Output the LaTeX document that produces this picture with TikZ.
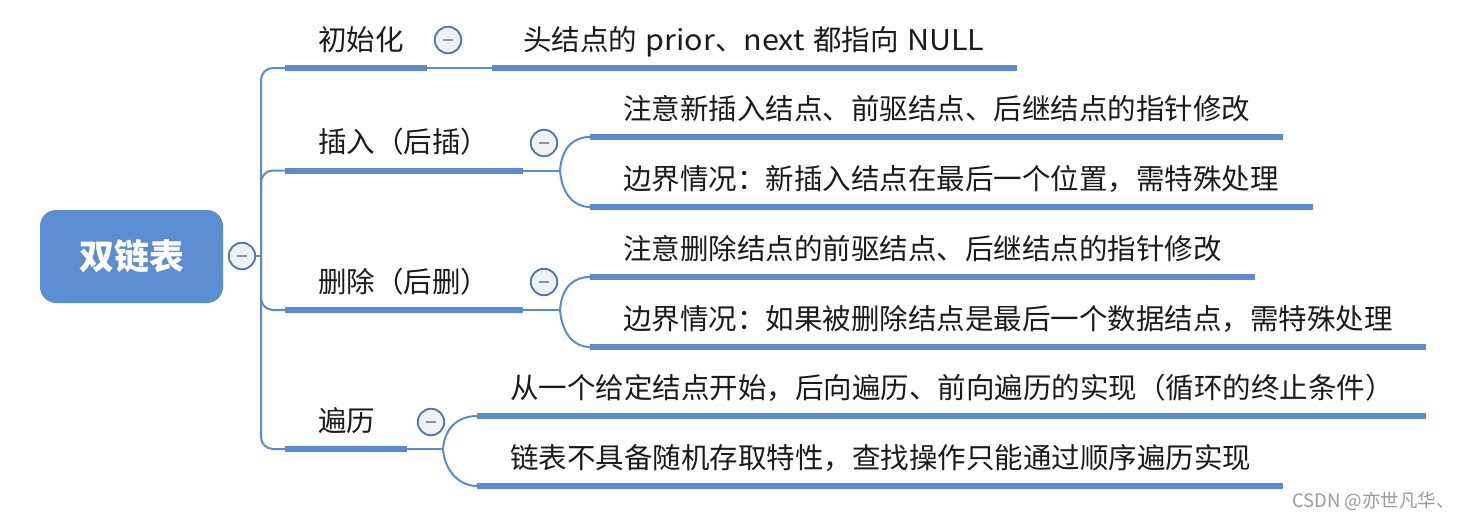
\documentclass[tikz,border=0pt]{standalone}
\usepackage{fontspec}
\setmainfont{Noto Sans CJK SC}
\definecolor{lineblue}{HTML}{5A8AD0}
\definecolor{rootblue}{HTML}{5B8DD3}
\definecolor{ring}{HTML}{4F72AD}
\definecolor{ringfill}{HTML}{EEF1F8}
\definecolor{minuscol}{HTML}{8E8EB2}
\definecolor{txtcol}{HTML}{1A1A1A}
\definecolor{wmcol}{HTML}{9A9A9A}
\newcommand{\gap}{\hspace{0.3em}}
\newcommand{\wide}[1]{\scalebox{1.07}[1]{#1}}
\begin{document}
\begin{tikzpicture}[x=1pt,y=-1pt,
  thin/.style={draw=lineblue, line width=2pt},
  bar/.style={draw=lineblue, line width=6pt},
  txt/.style={anchor=base west, inner sep=0pt, text=txtcol, font=\fontsize{28.5}{32}\selectfont},
  rootbox/.style={rounded corners=16pt, fill=rootblue, minimum width=183pt, minimum height=93pt, text=white, inner sep=0pt, font=\bfseries\fontsize{35}{40}\selectfont},
  toggle/.style={circle, draw=ring, line width=1.8pt, fill=ringfill, minimum size=26.5pt, inner sep=0pt,
    path picture={\draw[minuscol, line width=2pt] ([xshift=-5pt]path picture bounding box.center) -- ([xshift=5pt]path picture bounding box.center);}},
  wm/.style={anchor=west, inner sep=0pt, text=wmcol, font=\fontsize{18.5}{21}\selectfont}
]
\useasboundingbox (0,0) rectangle (1467,520);

% root
\node[rootbox] (root) at (131.5,256.5) {双链表};
\node[toggle] (t0) at (242,256) {};
\coordinate (trunk) at (261,256);
\draw[thin] (t0.east) -- (trunk);

% branch 1
\coordinate (b1s) at (285,68); \coordinate (b1e) at (427,68);
\draw[thin, rounded corners=12pt] (trunk) |- (b1s);
\draw[bar] (b1s) -- (b1e);
\node[txt] (b1) at (318,50) {初始化};
\node[toggle] (t1) at (448,40) {};
\coordinate (c1s) at (492,68); \coordinate (c1e) at (1017,68);
\draw[thin] (b1e) -- (c1s);
\draw[bar] (c1s) -- (c1e);
\node[txt] (c1) at (523,50) {头结点的\gap\wide{prior}、\wide{next}\gap 都指向\gap\wide{NULL}};

% branch 2
\coordinate (b2s) at (285,170.5); \coordinate (b2e) at (523,170.5);
\draw[thin, rounded corners=12pt] (trunk) |- (b2s);
\draw[bar] (b2s) -- (b2e);
\node[txt] (b2) at (318,152.5) {插入（后插）};
\node[toggle] (t2) at (544,143) {};
\coordinate (j2) at (560,170.5);
\draw[thin] (b2e) -- (j2);
\coordinate (c21s) at (590,137); \coordinate (c21e) at (1283,137);
\coordinate (c22s) at (590,207); \coordinate (c22e) at (1313,207);
\draw[thin] (j2) .. controls +(2,-24) and +(-16,0) .. (c21s);
\draw[thin] (j2) .. controls +(2,24) and +(-16,0) .. (c22s);
\draw[bar] (c21s) -- (c21e);
\draw[bar] (c22s) -- (c22e);
\node[txt] (c21) at (623,119) {注意新插入结点、前驱结点、后继结点的指针修改};
\node[txt] (c22) at (623,189) {边界情况：新插入结点在最后一个位置，需特殊处理};

% branch 3
\coordinate (b3s) at (285,310); \coordinate (b3e) at (523,310);
\draw[thin, rounded corners=12pt] (trunk) |- (b3s);
\draw[bar] (b3s) -- (b3e);
\node[txt] (b3) at (318,292) {删除（后删）};
\node[toggle] (t3) at (544,282) {};
\coordinate (j3) at (560,310);
\draw[thin] (b3e) -- (j3);
\coordinate (c31s) at (590,277); \coordinate (c31e) at (1255,277);
\coordinate (c32s) at (590,347); \coordinate (c32e) at (1426,347);
\draw[thin] (j3) .. controls +(2,-24) and +(-16,0) .. (c31s);
\draw[thin] (j3) .. controls +(2,24) and +(-16,0) .. (c32s);
\draw[bar] (c31s) -- (c31e);
\draw[bar] (c32s) -- (c32e);
\node[txt] (c31) at (623,259) {注意删除结点的前驱结点、后继结点的指针修改};
\node[txt] (c32) at (623,329) {边界情况：如果被删除结点是最后一个数据结点，需特殊处理};

% branch 4
\coordinate (b4s) at (285,449); \coordinate (b4e) at (407,449);
\draw[thin, rounded corners=12pt] (trunk) |- (b4s);
\draw[bar] (b4s) -- (b4e);
\node[txt] (b4) at (318,431) {遍历};
\node[toggle] (t4) at (431,422) {};
\coordinate (j4) at (443,449);
\draw[thin] (b4e) -- (j4);
\coordinate (c41s) at (477,416); \coordinate (c41e) at (1426,416);
\coordinate (c42s) at (477,486); \coordinate (c42e) at (1283,486);
\draw[thin] (j4) .. controls +(2,-24) and +(-16,0) .. (c41s);
\draw[thin] (j4) .. controls +(2,24) and +(-16,0) .. (c42s);
\draw[bar] (c41s) -- (c41e);
\draw[bar] (c42s) -- (c42e);
\node[txt] (c41) at (510,398) {从一个给定结点开始，后向遍历、前向遍历的实现（循环的终止条件）};
\node[txt] (c42) at (510,468) {链表不具备随机存取特性，查找操作只能通过顺序遍历实现};

% watermark
\node[wm] (mark) at (1292,501) {CSDN @亦世凡华、};
\end{tikzpicture}
\end{document}
